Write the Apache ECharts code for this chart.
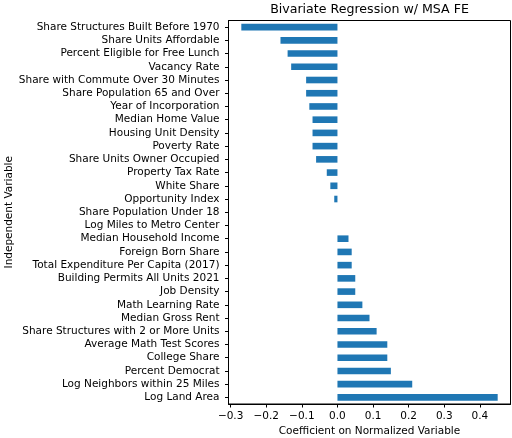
<!DOCTYPE html>
<html>
<head>
<meta charset="utf-8">
<script src="https://cdn.jsdelivr.net/npm/echarts@6/dist/echarts.min.js"></script>
<style>
  html, body { margin: 0; padding: 0; background: #fff; }
  #main { width: 512px; height: 438px; }
</style>
</head>
<body>
<div id="main"></div>
<script>
// variables, top to bottom as drawn
var variables = [
    'Share Structures Built Before 1970', 'Share Units Affordable', 'Percent Eligible for Free Lunch',
    'Vacancy Rate', 'Share with Commute Over 30 Minutes', 'Share Population 65 and Over',
    'Year of Incorporation', 'Median Home Value', 'Housing Unit Density', 'Poverty Rate',
    'Share Units Owner Occupied', 'Property Tax Rate', 'White Share', 'Opportunity Index',
    'Share Population Under 18', 'Log Miles to Metro Center', 'Median Household Income',
    'Foreign Born Share', 'Total Expenditure Per Capita (2017)', 'Building Permits All Units 2021',
    'Job Density', 'Math Learning Rate', 'Median Gross Rent', 'Share Structures with 2 or More Units',
    'Average Math Test Scores', 'College Share', 'Percent Democrat', 'Log Neighbors within 25 Miles',
    'Log Land Area'
];
var coefficients = [
    -0.27, -0.16, -0.14, -0.13, -0.088, -0.088, -0.079, -0.07, -0.07, -0.07,
    -0.06, -0.03, -0.02, -0.009, 0, 0, 0.031, 0.04, 0.04, 0.05,
    0.05, 0.07, 0.09, 0.11, 0.14, 0.14, 0.15, 0.21, 0.45
];
var xTicks = [-0.3, -0.2, -0.1, 0.0, 0.1, 0.2, 0.3, 0.4];

var chart = echarts.init(document.getElementById('main'));

var font = 'DejaVu Sans';

var option = {
    animation: false,
    title: {
        text: 'Bivariate Regression w/ MSA FE',
        left: 364.5,
        top: -2,
        textAlign: 'center',
        textStyle: { fontFamily: font, fontSize: 12.6, fontWeight: 'normal', color: '#000' }
    },
    grid: {
        left: 228.5,
        right: 1.5,
        top: 20.5,
        bottom: 34,
        outerBoundsMode: 'none',
        show: true,
        borderColor: '#000',
        borderWidth: 1
    },
    xAxis: {
        type: 'value',
        min: -0.306,
        max: 0.486,
        name: 'Coefficient on Normalized Variable',
        nameLocation: 'middle',
        nameGap: 22,
        nameMoveOverlap: false,
        nameTextStyle: { fontFamily: font, fontSize: 10.5, color: '#000' },
        splitLine: { show: false },
        axisLine: { show: true, lineStyle: { color: '#000', width: 1 } },
        axisTick: { show: true, length: 3.5, customValues: xTicks, lineStyle: { color: '#000' } },
        axisLabel: {
            customValues: xTicks,
            margin: 7,
            fontFamily: font,
            fontSize: 10.5,
            color: '#000',
            formatter: function (v) { return v.toFixed(1).replace('-', '\u2212'); }
        }
    },
    yAxis: {
        type: 'category',
        inverse: true,
        data: variables,
        name: 'Independent Variable',
        nameLocation: 'middle',
        nameGap: 214,
        nameMoveOverlap: false,
        nameTextStyle: { fontFamily: font, fontSize: 10.5, color: '#000' },
        axisLine: { show: true, onZero: false, lineStyle: { color: '#000', width: 1 } },
        axisTick: { show: true, alignWithLabel: true, length: 3.5, lineStyle: { color: '#000' } },
        axisLabel: {
            interval: 0,
            margin: 9,
            fontFamily: font,
            fontSize: 10.5,
            color: '#000'
        }
    },
    series: [
        {
            type: 'bar',
            data: coefficients,
            barWidth: '50%',
            itemStyle: { color: '#1f77b4' }
        }
    ]
};
chart.setOption(option);
</script>
</body>
</html>
